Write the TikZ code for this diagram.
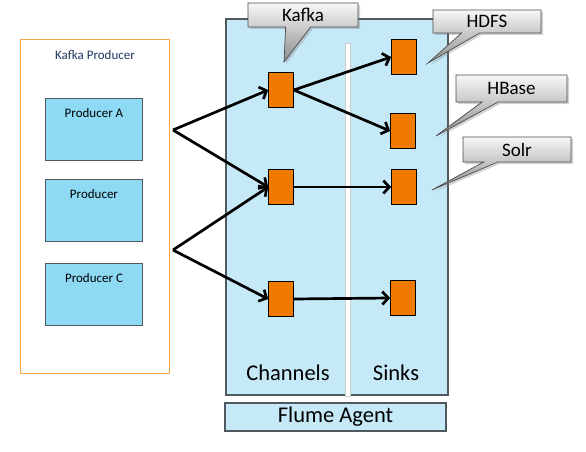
\documentclass[tikz,border=0pt]{standalone}
\usepackage{fontspec}
\setmainfont{Carlito}
\usetikzlibrary{arrows.meta,shapes.callouts,shadows}
\definecolor{flumeblue}{HTML}{C6E9F8}
\definecolor{prodblue}{HTML}{8ED9F3}
\definecolor{chanorange}{HTML}{F07A00}
\definecolor{edgegray}{HTML}{4F5A60}
\definecolor{outerorange}{HTML}{F7A54A}
\definecolor{navytext}{HTML}{1F3864}
\begin{document}
\begin{tikzpicture}[x=1pt, y=-1pt,
	prodbox/.style={draw=edgegray, line width=1pt, fill=prodblue, minimum width=97pt, minimum height=62pt, inner sep=0pt},
	flowbox/.style={draw=black, line width=0.7pt, fill=chanorange, minimum width=25pt, minimum height=35pt, inner sep=0pt},
	flow/.style={line width=2.7pt, -{Straight Barb[length=6pt, width=13pt]}},
	tag/.style={rectangle callout, draw=gray!60!black, line width=0.7pt, top color=gray!6, bottom color=gray!90, drop shadow={opacity=0.35, shadow xshift=2pt, shadow yshift=-2pt}, inner sep=0pt, font=\fontsize{19}{21}\selectfont},
	big/.style={font=\fontsize{22.5}{25}\selectfont}]
	\useasboundingbox (0,0) rectangle (586,452);
	% Kafka producer side
	\draw[outerorange, line width=1pt] (20,40) rectangle (169,373);
	\node[navytext, font=\fontsize{13}{15}\selectfont] (kp) at (95,55) {Kafka Producer};
	\foreach \n/\y/\t in {pa/129.5/Producer A, pb/210.5/Producer, pc/294/Producer C}
	{
		\node[prodbox, label={[anchor=north, yshift=-7pt, font=\fontsize{13}{15}\selectfont]north:\t}] (\n) at (94,\y) {};
	};
	% Flume agent
	\draw[edgegray, fill=flumeblue, line width=1.2pt] (226,19) rectangle (448,395);
	\draw[gray!40, fill=white, line width=0.4pt] (345,43) rectangle (350,396.5);
	\node[big] (ch) at (288,373) {Channels};
	\node[big] (sk) at (396,373) {Sinks};
	\node[draw=edgegray, fill=flumeblue, line width=1.2pt, minimum width=221pt, minimum height=28pt, inner sep=0pt, big] (fa) at (335.5,417) {Flume Agent};
	% channels and sinks
	\foreach \n/\x/\y in {c1/281/90, c2/281/187, c3/281/299, s1/404/57, s2/403/131, s3/404/187, s4/403/298}
	{
		\node[flowbox] (\n) at (\x,\y) {};
	};
	\coordinate (f1) at (173,130);
	\coordinate (f2) at (173,250);
	\draw[flow] (f1) -- (c1.west);
	\draw[flow] (f1) -- (c2.west);
	\draw[flow] (f2) -- (c2.west);
	\draw[flow] (f2) -- (c3.west);
	\draw[flow] (c1.east) -- (s1.west);
	\draw[flow] (c1.east) -- (s2.west);
	\draw[flow] (c2.east) -- (s3.west);
	\draw[flow] (c3.east) -- (s4.west);
	% callouts
	\node[tag, minimum width=110pt, minimum height=24pt, callout pointer width=25pt, callout absolute pointer={(284,62)}] (kafka) at (303,15) {Kafka};
	\node[tag, minimum width=108pt, minimum height=23pt, callout pointer width=18pt, callout absolute pointer={(428,63)}] (hdfs) at (487,21.5) {HDFS};
	\node[tag, minimum width=111pt, minimum height=27pt, callout pointer width=16pt, callout absolute pointer={(436,136)}] (hbase) at (511.5,88.5) {HBase};
	\node[tag, minimum width=108pt, minimum height=25pt, callout pointer width=14pt, callout absolute pointer={(432,190)}] (solr) at (517,149.5) {Solr};
\end{tikzpicture}
\end{document}
